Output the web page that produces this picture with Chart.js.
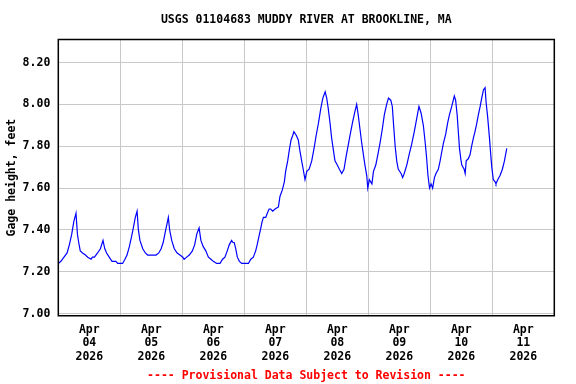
<!DOCTYPE html>
<html>
<head>
<meta charset="utf-8">
<script src="https://cdn.jsdelivr.net/npm/chart.js@4"></script>
<style>
  html, body { margin: 0; padding: 0; background: #fff; }
  #wrap { width: 576px; height: 384px; }
</style>
</head>
<body>
<div id="wrap"><canvas id="gage"></canvas></div>
<script>
// hours since Apr 04 2026 00:00, gage height in feet
const hours = [
  0, 1, 2.2, 3.4, 4.3, 5.2, 6, 6.85, 7.4, 7.9, 8.5, 9.4, 10.5, 11.4, 12.7, 13.2, 14, 15.2, 16.3, 17.3,
  18, 18.7, 19.7, 20.8, 22.3, 23, 24.9, 25.8, 26.6, 27.5, 28.4, 29.2, 29.8, 30.5, 31, 31.6, 32.7, 33.7,
  34.6, 37.8, 38.9, 39.8, 40.6, 41.4, 42.1, 42.6, 43.1, 43.9, 44.9, 46, 47.1, 48.2, 48.7, 49.7, 50.7,
  51.9, 52.8, 53.6, 54.5, 55.2, 56.1, 57.1, 58.1, 59.1, 60, 61.3, 62.6, 63.6, 64.5, 65.4, 66.2, 67.1,
  67.6, 68.1, 68.7, 69.3, 70.1, 71, 72.3, 73.6, 74.5, 75.5, 76.4, 77, 77.7, 78.4, 78.9, 79.4, 80.3,
  80.9, 81.6, 82.2, 83, 83.9, 85.2, 85.8, 86.7, 87.5, 88, 88.8, 89.4, 90.1, 90.7, 91.2, 92.2, 92.9,
  93.5, 94.2, 94.8, 95.5, 96.2, 97.1, 98.1, 99, 99.8, 100.7, 101.6, 102.4, 103.3, 103.9, 104.5, 105.2,
  105.8, 106.5, 107.1, 108, 108.8, 109.7, 110.6, 111.4, 112.3, 113.2, 114, 114.9, 115.5, 116.1, 116.8,
  117.4, 118.1, 118.7, 119.4, 119.8, 120.4, 121.4, 122, 122.9, 123.7, 124.6, 125.4, 126.2, 127.1,
  127.8, 128.7, 129.3, 129.8, 130.4, 131, 131.6, 132.7, 133.3, 133.9, 134.9, 135.8, 136.8, 137.8,
  138.7, 139.6, 140.4, 141.3, 142, 142.6, 143.1, 143.7, 144.3, 144.9, 145.6, 146.2, 147.1, 147.8,
  148.4, 149, 150, 150.7, 151.4, 152.3, 153.3, 153.8, 154.4, 154.9, 155.3, 155.8, 156.2, 157.1,
  157.5, 157.9, 158.7, 159.4, 160, 160.7, 161.3, 162, 162.6, 163.3, 163.9, 164.6, 165.2, 165.6,
  166.2, 166.9, 167.4, 167.8, 168.4, 169.1, 169.4, 170.1, 171, 171.9, 172.7, 173.6
];
const gageHeight = [
  7.24, 7.25, 7.27, 7.29, 7.33, 7.38, 7.44, 7.48, 7.38, 7.34, 7.30, 7.29, 7.28, 7.27, 7.26, 7.27, 7.27, 7.29, 7.31, 7.35,
  7.31, 7.29, 7.27, 7.25, 7.25, 7.24, 7.24, 7.26, 7.28, 7.32, 7.37, 7.42, 7.46, 7.49, 7.40, 7.35, 7.31, 7.29,
  7.28, 7.28, 7.29, 7.31, 7.34, 7.39, 7.43, 7.46, 7.40, 7.35, 7.31, 7.29, 7.28, 7.27, 7.26, 7.27, 7.28,
  7.30, 7.33, 7.38, 7.41, 7.35, 7.32, 7.30, 7.27, 7.26, 7.25, 7.24, 7.24, 7.26, 7.27, 7.30, 7.33, 7.35,
  7.34, 7.34, 7.31, 7.27, 7.25, 7.24, 7.24, 7.24, 7.26, 7.27, 7.30, 7.33, 7.37, 7.41, 7.44, 7.46, 7.46,
  7.48, 7.50, 7.50, 7.49, 7.50, 7.51, 7.56, 7.59, 7.63, 7.68, 7.73, 7.78, 7.83, 7.85, 7.87, 7.85, 7.83,
  7.78, 7.73, 7.69, 7.64, 7.68, 7.69, 7.73, 7.79, 7.85, 7.91, 7.98, 8.03, 8.06, 8.03, 7.98, 7.91,
  7.84, 7.78, 7.73, 7.71, 7.69, 7.67, 7.69, 7.75, 7.81, 7.87, 7.92, 7.97, 8.00, 7.95, 7.88,
  7.82, 7.76, 7.71, 7.66, 7.60, 7.64, 7.62, 7.68, 7.71, 7.76, 7.82, 7.88, 7.95, 8.00,
  8.03, 8.02, 7.99, 7.90, 7.80, 7.73, 7.69, 7.67, 7.65, 7.67, 7.71, 7.76, 7.81, 7.87,
  7.93, 7.99, 7.96, 7.90, 7.82, 7.74, 7.66, 7.60, 7.62, 7.60, 7.65, 7.67, 7.69, 7.73,
  7.77, 7.81, 7.86, 7.91, 7.95, 7.99, 8.04, 8.02, 7.95, 7.86, 7.79, 7.74, 7.71, 7.69,
  7.67, 7.73, 7.74, 7.76, 7.80, 7.84, 7.87, 7.91, 7.95, 7.99, 8.03, 8.07, 8.08, 8.01,
  7.94, 7.84, 7.76, 7.70, 7.64, 7.63, 7.62, 7.64, 7.66, 7.69, 7.73, 7.79
];
const dayLabels = ['04', '05', '06', '07', '08', '09', '10', '11'];
const monthLabel = 'Apr';
const yearLabel = '2026';
const yTicks = [7.0, 7.2, 7.4, 7.6, 7.8, 8.0, 8.2];

const MONO = "'DejaVu Sans Mono', 'Liberation Mono', monospace";
const font = { family: MONO, size: 11.5, weight: 'bold', lineHeight: '13.5px' };

// black frame round the plot area
const framePlugin = {
  id: 'frame',
  afterDraw(chart) {
    const { ctx, chartArea: a } = chart;
    ctx.save();
    ctx.strokeStyle = '#000';
    ctx.lineWidth = 1.5;
    ctx.strokeRect(a.left, a.top, a.right - a.left, a.bottom - a.top);
    ctx.restore();
  }
};

new Chart(document.getElementById('gage'), {
  type: 'line',
  data: {
    datasets: [{
      data: hours.map((h, i) => ({ x: h, y: gageHeight[i] })),
      borderColor: '#0000ff',
      borderWidth: 1.2,
      pointRadius: 0,
      tension: 0,
      fill: false
    }]
  },
  options: {
    responsive: true,
    maintainAspectRatio: false,
    animation: false,
    layout: { padding: { left: 0, right: 21.7, top: 0, bottom: 0 } },
    plugins: {
      legend: { display: false },
      tooltip: { enabled: false },
      title: {
        display: true,
        fullSize: false,
        text: 'USGS 01104683 MUDDY RIVER AT BROOKLINE, MA',
        color: '#000',
        font: font,
        padding: { top: 13.25, bottom: 12.75 }
      },
      subtitle: {
        display: true,
        fullSize: false,
        position: 'bottom',
        text: '---- Provisional Data Subject to Revision ----',
        color: '#ff0000',
        font: font,
        padding: { top: 0, bottom: 1.25 }
      }
    },
    scales: {
      x: {
        type: 'linear',
        min: 0,
        max: 192,
        afterBuildTicks: (scale) => {
          const t = [];
          for (let h = 0; h <= 192; h += 12) t.push({ value: h });
          scale.ticks = t;
        },
        afterFit: (scale) => { scale.height = 53.5; },
        grid: {
          color: (c) => (c.tick && c.tick.value % 24 === 0) ? '#c8c8c8' : 'rgba(0,0,0,0)',
          lineWidth: 1,
          drawTicks: false
        },
        border: { display: false },
        ticks: {
          autoSkip: false,
          maxRotation: 0,
          padding: 7.5,
          color: '#000',
          font: font,
          callback: (v) => {
            if (v % 24 !== 12) return '';
            const d = Math.floor(v / 24);
            return [monthLabel, dayLabels[d], yearLabel];
          }
        }
      },
      y: {
        min: 6.99,
        max: 8.31,
        afterBuildTicks: (scale) => { scale.ticks = yTicks.map(v => ({ value: v })); },
        afterFit: (scale) => { scale.width = 58.3; },
        grid: { color: '#c8c8c8', lineWidth: 1, drawTicks: false },
        border: { display: false },
        ticks: {
          padding: 8,
          color: '#000',
          font: font,
          callback: (v) => Number(v).toFixed(2)
        },
        title: {
          display: true,
          text: 'Gage height, feet',
          color: '#000',
          font: font,
          padding: { top: 5, bottom: 0 }
        }
      }
    }
  },
  plugins: [framePlugin]
});
</script>
</body>
</html>
